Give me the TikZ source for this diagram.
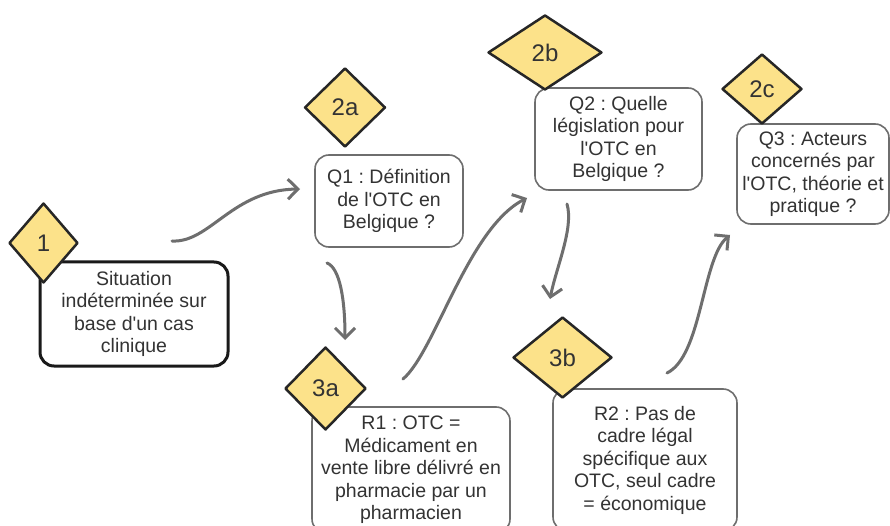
\documentclass[tikz,border=0pt]{standalone}
\usepackage{fontspec}
\setmainfont{Liberation Sans}
\usetikzlibrary{shapes.geometric,arrows.meta}
\definecolor{txt}{HTML}{333333}
\definecolor{edgegray}{HTML}{6E6E6E}
\definecolor{badgefill}{RGB}{252,226,138}
\newcommand{\ap}{\textquotesingle}
\begin{document}
\frenchspacing
\begin{tikzpicture}[x=1pt,y=-1pt,
  box/.style={draw=edgegray, line width=1.6pt, rounded corners=14pt, fill=white, text=txt,
    align=center, font=\fontsize{19.5}{22.5}\selectfont, inner sep=0pt},
  mainbox/.style={box, draw=black!90, line width=3pt},
  badge/.style={diamond, draw=black!85, fill=badgefill, line width=2.5pt, line join=round,
    inner sep=0pt, text=txt, font=\fontsize{24}{24}\selectfont},
  flow/.style={draw=edgegray, line width=3pt, line cap=round, line join=round,
    -{Straight Barb[length=10pt,width=20pt]}}
]
\clip (0,0) rectangle (890,526);
\fill[white] (0,0) rectangle (890,526);

% boxes
\node[mainbox, minimum width=188pt, minimum height=104pt] (s1) at (134,314)
  {Situation\\indéterminée sur\\base d\ap un cas\\clinique};
\node[box, minimum width=148pt, minimum height=92pt] (q1) at (389,201)
  {Q1 : Définition\\de l\ap OTC en\\Belgique ?};
\node[box, minimum width=198pt, minimum height=126pt] (r1) at (411,470)
  {R1 : OTC =\\Médicament en\\vente libre délivré en\\pharmacie par un\\pharmacien};
\node[box, minimum width=167pt, minimum height=102pt] (q2) at (618.5,139)
  {Q2 : Quelle\\législation pour\\l\ap OTC en\\Belgique ?};
\node[box, minimum width=184pt, minimum height=142pt] (r2) at (645,460)
  {R2 : Pas de\\cadre légal\\spécifique aux\\OTC, seul cadre\\= économique};
\node[box, minimum width=152pt, minimum height=100pt] (q3) at (813,174)
  {Q3 : Acteurs\\concernés par\\l\ap OTC, théorie et\\pratique ?};

% badges
\node[badge, minimum width=69pt, minimum height=80pt] (b1) at (43.5,243) {1};
\node[badge, minimum width=81pt, minimum height=79pt] (b2a) at (345,107.5) {2a};
\node[badge, minimum width=81pt, minimum height=83pt] (b3a) at (325.5,388.5) {3a};
\node[badge, minimum width=114pt, minimum height=75pt] (b2b) at (545,52.5) {2b};
\node[badge, minimum width=99pt, minimum height=81pt] (b3b) at (562.5,357.5) {3b};
\node[badge, minimum width=80pt, minimum height=70pt] (b2c) at (762,89) {2c};

% connector end points
\coordinate (a1s) at (172,241); \coordinate (a1e) at (300,189);
\coordinate (a2s) at (327,263); \coordinate (a2e) at (345,340);
\coordinate (a3s) at (403,379); \coordinate (a3e) at (527,198);
\coordinate (a4s) at (567,204); \coordinate (a4e) at (550,299);
\coordinate (a5s) at (667,373); \coordinate (a5e) at (730,235);

\draw[flow] (a1s) .. controls (210,243) and (232,190) .. (a1e);
\draw[flow] (a2s) .. controls (340,268) and (345,300) .. (a2e);
\draw[flow] (a3s) .. controls (435,352) and (468,228) .. (a3e);
\draw[flow] (a4s) .. controls (574,228) and (556,268) .. (a4e);
\draw[flow] (a5s) .. controls (702,356) and (702,258) .. (a5e);
\end{tikzpicture}
\end{document}
